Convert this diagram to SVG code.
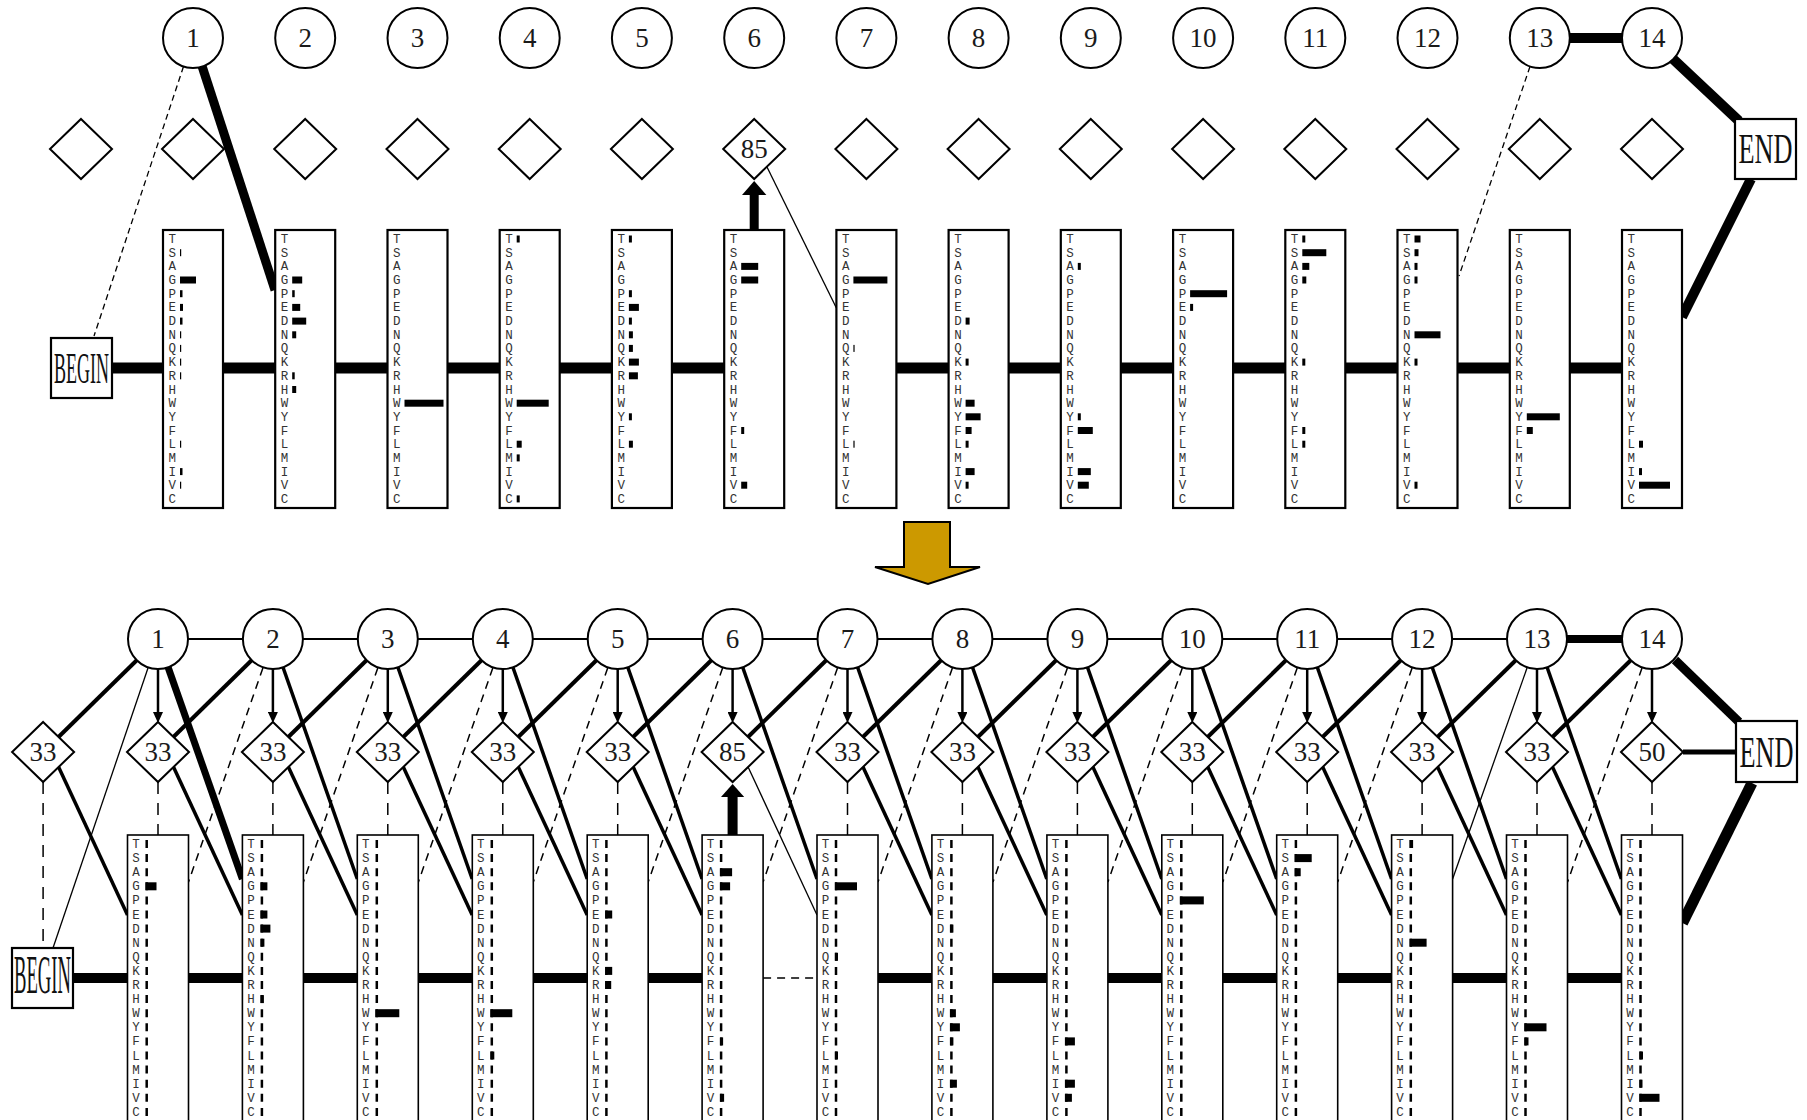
<svg xmlns="http://www.w3.org/2000/svg" width="1807" height="1120" viewBox="0 0 1807 1120">
<style>
.cir{fill:#fff;stroke:#000;stroke-width:2}
.dia{fill:#fff;stroke:#000;stroke-width:2}
.bt{fill:#fff;stroke:#000;stroke-width:2.2}
.bb{fill:#fff;stroke:#000;stroke-width:1.6}
.term{fill:#fff;stroke:#000;stroke-width:2.2}
.num{font-family:"Liberation Serif","Times New Roman",serif;font-size:27px;text-anchor:middle;fill:#1a1a1a}
.tt{font-family:"Liberation Serif","Times New Roman",serif;text-anchor:middle;fill:#111}
.lt{font-family:"Liberation Mono","Courier New",monospace;font-size:12.5px;text-anchor:middle;fill:#333}
.c{stroke:#000;fill:none}
.thin{stroke-width:1.3}
.dsh{stroke-dasharray:6 4}
.dsh2{stroke-width:1.5;stroke-dasharray:8 6}
.vd{stroke-width:1.5;stroke-dasharray:12 9}
.w35{stroke-width:3.5}
.w4{stroke-width:4}
.arr{stroke-width:2.5;marker-end:url(#ah)}
.dc{stroke:#000;fill:none;stroke-width:2.5;stroke-dasharray:8 6.1}
</style>
<defs>
<marker id="ah" markerUnits="userSpaceOnUse" markerWidth="11" markerHeight="10" viewBox="0 0 11 10" refX="5" refY="5" orient="auto"><path d="M0,0L11,5L0,10z"/></marker>
</defs>

<g id="connectors">
<!-- top -->
<path class="c" stroke-width="11" d="M112,368H754M866,368H1652"/>
<path class="c" stroke-width="10" d="M1569,38H1623"/>
<path class="c" stroke-width="10" d="M1673,59L1739,121"/>
<path class="c" stroke-width="10" d="M1751,179L1682,317"/>
<path class="c" stroke-width="9" d="M202,66L275,290"/>
<path class="c thin dsh" d="M183.5,66.5L94,336"/>
<path class="c thin dsh" d="M1530,66.5L1459,276"/>
<path class="c thin" d="M767,167L836.4,308"/>
<path class="c" stroke-width="9" d="M754.2,230V194"/>
<path d="M742,195H766.4L754.2,181z"/>
<!-- bottom -->
<path class="c" stroke-width="2" d="M158,639H1537"/>
<path class="c" stroke-width="8" d="M1537,639H1652"/>
<path class="c" stroke-width="10" d="M73,978H732M847,978H1652"/>
<path class="c dsh2" d="M763.1,978H817"/>
<path class="c" stroke-width="10" d="M732.6,835V797"/>
<path d="M721,797H744.2L732.6,784z"/>
<path class="c" stroke-width="9" d="M1675,660L1739,722"/>
<path class="c" stroke-width="5" d="M1683,752H1737"/>
<path class="c" stroke-width="11" d="M1752,783L1682.5,923"/>
<!-- circle i -> insert i-1 -->
<path class="c w4" d="M137,660L58.5,737"/>
<path class="c w4" d="M251.9,660L173.4,737"/>
<path class="c w4" d="M366.8,660L288.3,737"/>
<path class="c w4" d="M481.8,660L403.3,737"/>
<path class="c w4" d="M596.7,660L518.2,737"/>
<path class="c w4" d="M711.6,660L633.1,737"/>
<path class="c w4" d="M826.5,660L748,737"/>
<path class="c w4" d="M941.4,660L862.9,737"/>
<path class="c w4" d="M1056.4,660L977.9,737"/>
<path class="c w4" d="M1171.3,660L1092.8,737"/>
<path class="c w4" d="M1286.2,660L1207.7,737"/>
<path class="c w4" d="M1401.1,660L1322.6,737"/>
<path class="c w4" d="M1516,660L1437.5,737"/>
<path class="c w4" d="M1631,660L1552.5,737"/>
<!-- circle i -> insert i arrows -->
<path class="c arr" d="M158,669V717"/>
<path class="c arr" d="M272.9,669V717"/>
<path class="c arr" d="M387.8,669V717"/>
<path class="c arr" d="M502.8,669V717"/>
<path class="c arr" d="M617.7,669V717"/>
<path class="c arr" d="M732.6,669V717"/>
<path class="c arr" d="M847.5,669V717"/>
<path class="c arr" d="M962.4,669V717"/>
<path class="c arr" d="M1077.4,669V717"/>
<path class="c arr" d="M1192.3,669V717"/>
<path class="c arr" d="M1307.2,669V717"/>
<path class="c arr" d="M1422.1,669V717"/>
<path class="c arr" d="M1537,669V717"/>
<path class="c arr" d="M1652,669V717"/>
<!-- circle i -> match i+1 -->
<path class="c" stroke-width="7" d="M168,667L242.4,879"/>
<path class="c w35" d="M282.9,667L357.3,879"/>
<path class="c w35" d="M397.8,667L472.2,879"/>
<path class="c w35" d="M512.8,667L587.2,879"/>
<path class="c w35" d="M627.7,667L702.1,879"/>
<path class="c w35" d="M742.6,667L817,879"/>
<path class="c w35" d="M857.5,667L931.9,879"/>
<path class="c w35" d="M972.4,667L1046.8,879"/>
<path class="c w35" d="M1087.4,667L1161.8,879"/>
<path class="c w35" d="M1202.3,667L1276.7,879"/>
<path class="c w35" d="M1317.2,667L1391.6,879"/>
<path class="c w35" d="M1432.1,667L1506.5,879"/>
<path class="c w35" d="M1547,667L1621.4,879"/>
<!-- insert i -> match i+1 -->
<path class="c w35" d="M58.6,767L127.5,915"/>
<path class="c w35" d="M173.5,767L242.4,915"/>
<path class="c w35" d="M288.4,767L357.3,915"/>
<path class="c w35" d="M403.3,767L472.2,915"/>
<path class="c w35" d="M518.3,767L587.2,915"/>
<path class="c w35" d="M633.2,767L702.1,915"/>
<path class="c thin" d="M748.1,767L817,915"/>
<path class="c w35" d="M863,767L931.9,915"/>
<path class="c w35" d="M977.9,767L1046.8,915"/>
<path class="c w35" d="M1092.9,767L1161.8,915"/>
<path class="c w35" d="M1207.8,767L1276.7,915"/>
<path class="c w35" d="M1322.7,767L1391.6,915"/>
<path class="c w35" d="M1437.6,767L1506.5,915"/>
<path class="c w35" d="M1552.5,767L1621.4,915"/>
<!-- circle i -> match i-1 (dashed) -->
<path class="c thin" d="M148,668L53,948"/>
<path class="c dsh2" d="M262.9,668L188.5,882"/>
<path class="c dsh2" d="M377.8,668L303.4,882"/>
<path class="c dsh2" d="M492.8,668L418.4,882"/>
<path class="c dsh2" d="M607.7,668L533.3,882"/>
<path class="c dsh2" d="M722.6,668L648.2,882"/>
<path class="c dsh2" d="M837.5,668L763.1,882"/>
<path class="c dsh2" d="M952.4,668L878,882"/>
<path class="c dsh2" d="M1067.4,668L993,882"/>
<path class="c dsh2" d="M1182.3,668L1107.9,882"/>
<path class="c dsh2" d="M1297.2,668L1222.8,882"/>
<path class="c dsh2" d="M1412.1,668L1337.7,882"/>
<path class="c thin" d="M1527,668L1452.6,879"/>
<path class="c dsh2" d="M1642,668L1567.6,882"/>
<!-- insert i -> match i (dashed vertical) -->
<path class="c vd" d="M43.1,782V948"/>
<path class="c vd" d="M158,782V835"/>
<path class="c vd" d="M272.9,782V835"/>
<path class="c vd" d="M387.8,782V835"/>
<path class="c vd" d="M502.8,782V835"/>
<path class="c vd" d="M617.7,782V835"/>
<path class="c vd" d="M847.5,782V835"/>
<path class="c vd" d="M962.4,782V835"/>
<path class="c vd" d="M1077.4,782V835"/>
<path class="c vd" d="M1192.3,782V835"/>
<path class="c vd" d="M1307.2,782V835"/>
<path class="c vd" d="M1422.1,782V835"/>
<path class="c vd" d="M1537,782V835"/>
<path class="c vd" d="M1652,782V835"/>
</g>

<g id="transform-arrow"><polygon points="904,522 950,522 950,567 980,567 928,584 875,567 904,567" fill="#cc9900" stroke="#000" stroke-width="2"/></g>

<!-- TOP NODES -->
<g id="t-begin"><rect class="term" x="51" y="338" width="61" height="60"/><text class="tt" transform="translate(81.5,383) scale(0.409,1)" font-size="44">BEGIN</text></g>
<g id="t-end"><rect class="term" x="1735" y="119" width="61" height="60"/><text class="tt" transform="translate(1765.5,163) scale(0.626,1)" font-size="42">END</text></g>

<g id="tc1"><circle class="cir" cx="193" cy="38" r="30"/><text class="num" x="193" y="47">1</text></g>
<g id="tc2"><circle class="cir" cx="305.2" cy="38" r="30"/><text class="num" x="305.2" y="47">2</text></g>
<g id="tc3"><circle class="cir" cx="417.5" cy="38" r="30"/><text class="num" x="417.5" y="47">3</text></g>
<g id="tc4"><circle class="cir" cx="529.7" cy="38" r="30"/><text class="num" x="529.7" y="47">4</text></g>
<g id="tc5"><circle class="cir" cx="641.9" cy="38" r="30"/><text class="num" x="641.9" y="47">5</text></g>
<g id="tc6"><circle class="cir" cx="754.2" cy="38" r="30"/><text class="num" x="754.2" y="47">6</text></g>
<g id="tc7"><circle class="cir" cx="866.4" cy="38" r="30"/><text class="num" x="866.4" y="47">7</text></g>
<g id="tc8"><circle class="cir" cx="978.6" cy="38" r="30"/><text class="num" x="978.6" y="47">8</text></g>
<g id="tc9"><circle class="cir" cx="1090.8" cy="38" r="30"/><text class="num" x="1090.8" y="47">9</text></g>
<g id="tc10"><circle class="cir" cx="1203.1" cy="38" r="30"/><text class="num" x="1203.1" y="47">10</text></g>
<g id="tc11"><circle class="cir" cx="1315.3" cy="38" r="30"/><text class="num" x="1315.3" y="47">11</text></g>
<g id="tc12"><circle class="cir" cx="1427.5" cy="38" r="30"/><text class="num" x="1427.5" y="47">12</text></g>
<g id="tc13"><circle class="cir" cx="1539.8" cy="38" r="30"/><text class="num" x="1539.8" y="47">13</text></g>
<g id="tc14"><circle class="cir" cx="1652" cy="38" r="30"/><text class="num" x="1652" y="47">14</text></g>

<g id="td0"><polygon class="dia" points="81,119 112,149 81,179 50,149"/></g>
<g id="td1"><polygon class="dia" points="193,119 224,149 193,179 162,149"/></g>
<g id="td2"><polygon class="dia" points="305.2,119 336.2,149 305.2,179 274.2,149"/></g>
<g id="td3"><polygon class="dia" points="417.5,119 448.5,149 417.5,179 386.5,149"/></g>
<g id="td4"><polygon class="dia" points="529.7,119 560.7,149 529.7,179 498.7,149"/></g>
<g id="td5"><polygon class="dia" points="641.9,119 672.9,149 641.9,179 610.9,149"/></g>
<g id="td6"><polygon class="dia" points="754.2,119 785.2,149 754.2,179 723.2,149"/><text class="num" x="754.2" y="158">85</text></g>
<g id="td7"><polygon class="dia" points="866.4,119 897.4,149 866.4,179 835.4,149"/></g>
<g id="td8"><polygon class="dia" points="978.6,119 1009.6,149 978.6,179 947.6,149"/></g>
<g id="td9"><polygon class="dia" points="1090.8,119 1121.8,149 1090.8,179 1059.8,149"/></g>
<g id="td10"><polygon class="dia" points="1203.1,119 1234.1,149 1203.1,179 1172.1,149"/></g>
<g id="td11"><polygon class="dia" points="1315.3,119 1346.3,149 1315.3,179 1284.3,149"/></g>
<g id="td12"><polygon class="dia" points="1427.5,119 1458.5,149 1427.5,179 1396.5,149"/></g>
<g id="td13"><polygon class="dia" points="1539.8,119 1570.8,149 1539.8,179 1508.8,149"/></g>
<g id="td14"><polygon class="dia" points="1652,119 1683,149 1652,179 1621,149"/></g>

<g id="tm1" transform="translate(163,230)"><rect class="bt" width="60" height="278"/><text class="lt" x="9.3 9.3 9.3 9.3 9.3 9.3 9.3 9.3 9.3 9.3 9.3 9.3 9.3 9.3 9.3 9.3 9.3 9.3 9.3 9.3" y="13 26.7 40.4 54 67.7 81.4 95.1 108.8 122.4 136.1 149.8 163.5 177.2 190.8 204.5 218.2 231.9 245.6 259.2 272.9">TSAGPEDNQKRHWYFLMIVC</text>
<rect x="17" y="19.2" width="1.2" height="7"/><rect x="17" y="46.5" width="16" height="7"/><rect x="17" y="60.2" width="2.5" height="7"/><rect x="17" y="73.9" width="3" height="7"/><rect x="17" y="87.6" width="2.5" height="7"/><rect x="17" y="101.3" width="1.2" height="7"/><rect x="17" y="114.9" width="1.2" height="7"/><rect x="17" y="128.6" width="1.2" height="7"/><rect x="17" y="142.3" width="1.2" height="7"/><rect x="17" y="210.7" width="1.2" height="7"/><rect x="17" y="238.1" width="2.5" height="7"/><rect x="17" y="251.7" width="1.2" height="7"/></g>
<g id="tm2" transform="translate(275.2,230)"><rect class="bt" width="60" height="278"/><text class="lt" x="9.3 9.3 9.3 9.3 9.3 9.3 9.3 9.3 9.3 9.3 9.3 9.3 9.3 9.3 9.3 9.3 9.3 9.3 9.3 9.3" y="13 26.7 40.4 54 67.7 81.4 95.1 108.8 122.4 136.1 149.8 163.5 177.2 190.8 204.5 218.2 231.9 245.6 259.2 272.9">TSAGPEDNQKRHWYFLMIVC</text>
<rect x="17" y="46.5" width="10" height="7"/><rect x="17" y="60.2" width="2.5" height="7"/><rect x="17" y="73.9" width="8" height="7"/><rect x="17" y="87.6" width="14" height="7"/><rect x="17" y="101.3" width="4" height="7"/><rect x="17" y="142.3" width="2.5" height="7"/><rect x="17" y="156" width="4" height="7"/></g>
<g id="tm3" transform="translate(387.5,230)"><rect class="bt" width="60" height="278"/><text class="lt" x="9.3 9.3 9.3 9.3 9.3 9.3 9.3 9.3 9.3 9.3 9.3 9.3 9.3 9.3 9.3 9.3 9.3 9.3 9.3 9.3" y="13 26.7 40.4 54 67.7 81.4 95.1 108.8 122.4 136.1 149.8 163.5 177.2 190.8 204.5 218.2 231.9 245.6 259.2 272.9">TSAGPEDNQKRHWYFLMIVC</text>
<rect x="17" y="169.7" width="39" height="7"/></g>
<g id="tm4" transform="translate(499.7,230)"><rect class="bt" width="60" height="278"/><text class="lt" x="9.3 9.3 9.3 9.3 9.3 9.3 9.3 9.3 9.3 9.3 9.3 9.3 9.3 9.3 9.3 9.3 9.3 9.3 9.3 9.3" y="13 26.7 40.4 54 67.7 81.4 95.1 108.8 122.4 136.1 149.8 163.5 177.2 190.8 204.5 218.2 231.9 245.6 259.2 272.9">TSAGPEDNQKRHWYFLMIVC</text>
<rect x="17" y="5.5" width="3" height="7"/><rect x="17" y="169.7" width="32" height="7"/><rect x="17" y="210.7" width="5" height="7"/><rect x="17" y="224.4" width="3" height="7"/><rect x="17" y="265.4" width="3" height="7"/></g>
<g id="tm5" transform="translate(611.9,230)"><rect class="bt" width="60" height="278"/><text class="lt" x="9.3 9.3 9.3 9.3 9.3 9.3 9.3 9.3 9.3 9.3 9.3 9.3 9.3 9.3 9.3 9.3 9.3 9.3 9.3 9.3" y="13 26.7 40.4 54 67.7 81.4 95.1 108.8 122.4 136.1 149.8 163.5 177.2 190.8 204.5 218.2 231.9 245.6 259.2 272.9">TSAGPEDNQKRHWYFLMIVC</text>
<rect x="17" y="5.5" width="3" height="7"/><rect x="17" y="60.2" width="3" height="7"/><rect x="17" y="73.9" width="10" height="7"/><rect x="17" y="87.6" width="3" height="7"/><rect x="17" y="101.3" width="4" height="7"/><rect x="17" y="114.9" width="4" height="7"/><rect x="17" y="128.6" width="10" height="7"/><rect x="17" y="142.3" width="9" height="7"/><rect x="17" y="183.3" width="3" height="7"/><rect x="17" y="210.7" width="4" height="7"/></g>
<g id="tm6" transform="translate(724.2,230)"><rect class="bt" width="60" height="278"/><text class="lt" x="9.3 9.3 9.3 9.3 9.3 9.3 9.3 9.3 9.3 9.3 9.3 9.3 9.3 9.3 9.3 9.3 9.3 9.3 9.3 9.3" y="13 26.7 40.4 54 67.7 81.4 95.1 108.8 122.4 136.1 149.8 163.5 177.2 190.8 204.5 218.2 231.9 245.6 259.2 272.9">TSAGPEDNQKRHWYFLMIVC</text>
<rect x="17" y="32.9" width="17" height="7"/><rect x="17" y="46.5" width="17" height="7"/><rect x="17" y="197" width="3" height="7"/><rect x="17" y="251.7" width="6" height="7"/></g>
<g id="tm7" transform="translate(836.4,230)"><rect class="bt" width="60" height="278"/><text class="lt" x="9.3 9.3 9.3 9.3 9.3 9.3 9.3 9.3 9.3 9.3 9.3 9.3 9.3 9.3 9.3 9.3 9.3 9.3 9.3 9.3" y="13 26.7 40.4 54 67.7 81.4 95.1 108.8 122.4 136.1 149.8 163.5 177.2 190.8 204.5 218.2 231.9 245.6 259.2 272.9">TSAGPEDNQKRHWYFLMIVC</text>
<rect x="17" y="46.5" width="34" height="7"/><rect x="17" y="114.9" width="1.2" height="7"/><rect x="17" y="210.7" width="1.2" height="7"/></g>
<g id="tm8" transform="translate(948.6,230)"><rect class="bt" width="60" height="278"/><text class="lt" x="9.3 9.3 9.3 9.3 9.3 9.3 9.3 9.3 9.3 9.3 9.3 9.3 9.3 9.3 9.3 9.3 9.3 9.3 9.3 9.3" y="13 26.7 40.4 54 67.7 81.4 95.1 108.8 122.4 136.1 149.8 163.5 177.2 190.8 204.5 218.2 231.9 245.6 259.2 272.9">TSAGPEDNQKRHWYFLMIVC</text>
<rect x="17" y="87.6" width="4" height="7"/><rect x="17" y="128.6" width="3" height="7"/><rect x="17" y="169.7" width="9" height="7"/><rect x="17" y="183.3" width="15" height="7"/><rect x="17" y="197" width="6" height="7"/><rect x="17" y="210.7" width="3" height="7"/><rect x="17" y="238.1" width="9" height="7"/><rect x="17" y="251.7" width="3" height="7"/></g>
<g id="tm9" transform="translate(1060.8,230)"><rect class="bt" width="60" height="278"/><text class="lt" x="9.3 9.3 9.3 9.3 9.3 9.3 9.3 9.3 9.3 9.3 9.3 9.3 9.3 9.3 9.3 9.3 9.3 9.3 9.3 9.3" y="13 26.7 40.4 54 67.7 81.4 95.1 108.8 122.4 136.1 149.8 163.5 177.2 190.8 204.5 218.2 231.9 245.6 259.2 272.9">TSAGPEDNQKRHWYFLMIVC</text>
<rect x="17" y="32.9" width="3" height="7"/><rect x="17" y="183.3" width="3" height="7"/><rect x="17" y="197" width="15" height="7"/><rect x="17" y="238.1" width="13" height="7"/><rect x="17" y="251.7" width="11" height="7"/></g>
<g id="tm10" transform="translate(1173.1,230)"><rect class="bt" width="60" height="278"/><text class="lt" x="9.3 9.3 9.3 9.3 9.3 9.3 9.3 9.3 9.3 9.3 9.3 9.3 9.3 9.3 9.3 9.3 9.3 9.3 9.3 9.3" y="13 26.7 40.4 54 67.7 81.4 95.1 108.8 122.4 136.1 149.8 163.5 177.2 190.8 204.5 218.2 231.9 245.6 259.2 272.9">TSAGPEDNQKRHWYFLMIVC</text>
<rect x="17" y="60.2" width="37" height="7"/><rect x="17" y="73.9" width="3" height="7"/></g>
<g id="tm11" transform="translate(1285.3,230)"><rect class="bt" width="60" height="278"/><text class="lt" x="9.3 9.3 9.3 9.3 9.3 9.3 9.3 9.3 9.3 9.3 9.3 9.3 9.3 9.3 9.3 9.3 9.3 9.3 9.3 9.3" y="13 26.7 40.4 54 67.7 81.4 95.1 108.8 122.4 136.1 149.8 163.5 177.2 190.8 204.5 218.2 231.9 245.6 259.2 272.9">TSAGPEDNQKRHWYFLMIVC</text>
<rect x="17" y="5.5" width="3" height="7"/><rect x="17" y="19.2" width="24" height="7"/><rect x="17" y="32.9" width="7" height="7"/><rect x="17" y="46.5" width="4" height="7"/><rect x="17" y="128.6" width="3" height="7"/><rect x="17" y="197" width="3" height="7"/><rect x="17" y="210.7" width="3" height="7"/></g>
<g id="tm12" transform="translate(1397.5,230)"><rect class="bt" width="60" height="278"/><text class="lt" x="9.3 9.3 9.3 9.3 9.3 9.3 9.3 9.3 9.3 9.3 9.3 9.3 9.3 9.3 9.3 9.3 9.3 9.3 9.3 9.3" y="13 26.7 40.4 54 67.7 81.4 95.1 108.8 122.4 136.1 149.8 163.5 177.2 190.8 204.5 218.2 231.9 245.6 259.2 272.9">TSAGPEDNQKRHWYFLMIVC</text>
<rect x="17" y="5.5" width="6" height="7"/><rect x="17" y="19.2" width="4" height="7"/><rect x="17" y="32.9" width="3" height="7"/><rect x="17" y="46.5" width="3" height="7"/><rect x="17" y="101.3" width="26" height="7"/><rect x="17" y="128.6" width="3" height="7"/><rect x="17" y="251.7" width="3" height="7"/></g>
<g id="tm13" transform="translate(1509.8,230)"><rect class="bt" width="60" height="278"/><text class="lt" x="9.3 9.3 9.3 9.3 9.3 9.3 9.3 9.3 9.3 9.3 9.3 9.3 9.3 9.3 9.3 9.3 9.3 9.3 9.3 9.3" y="13 26.7 40.4 54 67.7 81.4 95.1 108.8 122.4 136.1 149.8 163.5 177.2 190.8 204.5 218.2 231.9 245.6 259.2 272.9">TSAGPEDNQKRHWYFLMIVC</text>
<rect x="17" y="183.3" width="33" height="7"/><rect x="17" y="197" width="6" height="7"/></g>
<g id="tm14" transform="translate(1622,230)"><rect class="bt" width="60" height="278"/><text class="lt" x="9.3 9.3 9.3 9.3 9.3 9.3 9.3 9.3 9.3 9.3 9.3 9.3 9.3 9.3 9.3 9.3 9.3 9.3 9.3 9.3" y="13 26.7 40.4 54 67.7 81.4 95.1 108.8 122.4 136.1 149.8 163.5 177.2 190.8 204.5 218.2 231.9 245.6 259.2 272.9">TSAGPEDNQKRHWYFLMIVC</text>
<rect x="17" y="210.7" width="4" height="7"/><rect x="17" y="238.1" width="3" height="7"/><rect x="17" y="251.7" width="31" height="7"/></g>

<!-- BOTTOM NODES -->
<g id="b-begin"><rect class="term" x="12" y="948" width="61" height="60"/><text class="tt" transform="translate(42.5,993) scale(0.345,1)" font-size="54">BEGIN</text></g>
<g id="b-end"><rect class="term" x="1736" y="721" width="61" height="61"/><text class="tt" transform="translate(1766.5,767) scale(0.584,1)" font-size="45">END</text></g>

<g id="bc1"><circle class="cir" cx="158" cy="639" r="30"/><text class="num" x="158" y="648">1</text></g>
<g id="bc2"><circle class="cir" cx="272.9" cy="639" r="30"/><text class="num" x="272.9" y="648">2</text></g>
<g id="bc3"><circle class="cir" cx="387.8" cy="639" r="30"/><text class="num" x="387.8" y="648">3</text></g>
<g id="bc4"><circle class="cir" cx="502.8" cy="639" r="30"/><text class="num" x="502.8" y="648">4</text></g>
<g id="bc5"><circle class="cir" cx="617.7" cy="639" r="30"/><text class="num" x="617.7" y="648">5</text></g>
<g id="bc6"><circle class="cir" cx="732.6" cy="639" r="30"/><text class="num" x="732.6" y="648">6</text></g>
<g id="bc7"><circle class="cir" cx="847.5" cy="639" r="30"/><text class="num" x="847.5" y="648">7</text></g>
<g id="bc8"><circle class="cir" cx="962.4" cy="639" r="30"/><text class="num" x="962.4" y="648">8</text></g>
<g id="bc9"><circle class="cir" cx="1077.4" cy="639" r="30"/><text class="num" x="1077.4" y="648">9</text></g>
<g id="bc10"><circle class="cir" cx="1192.3" cy="639" r="30"/><text class="num" x="1192.3" y="648">10</text></g>
<g id="bc11"><circle class="cir" cx="1307.2" cy="639" r="30"/><text class="num" x="1307.2" y="648">11</text></g>
<g id="bc12"><circle class="cir" cx="1422.1" cy="639" r="30"/><text class="num" x="1422.1" y="648">12</text></g>
<g id="bc13"><circle class="cir" cx="1537" cy="639" r="30"/><text class="num" x="1537" y="648">13</text></g>
<g id="bc14"><circle class="cir" cx="1652" cy="639" r="30"/><text class="num" x="1652" y="648">14</text></g>

<g id="bd0"><polygon class="dia" points="43.1,722 74.1,752 43.1,782 12.1,752"/><text class="num" x="43.1" y="761">33</text></g>
<g id="bd1"><polygon class="dia" points="158,722 189,752 158,782 127,752"/><text class="num" x="158" y="761">33</text></g>
<g id="bd2"><polygon class="dia" points="272.9,722 303.9,752 272.9,782 241.9,752"/><text class="num" x="272.9" y="761">33</text></g>
<g id="bd3"><polygon class="dia" points="387.8,722 418.8,752 387.8,782 356.8,752"/><text class="num" x="387.8" y="761">33</text></g>
<g id="bd4"><polygon class="dia" points="502.8,722 533.8,752 502.8,782 471.8,752"/><text class="num" x="502.8" y="761">33</text></g>
<g id="bd5"><polygon class="dia" points="617.7,722 648.7,752 617.7,782 586.7,752"/><text class="num" x="617.7" y="761">33</text></g>
<g id="bd6"><polygon class="dia" points="732.6,722 763.6,752 732.6,782 701.6,752"/><text class="num" x="732.6" y="761">85</text></g>
<g id="bd7"><polygon class="dia" points="847.5,722 878.5,752 847.5,782 816.5,752"/><text class="num" x="847.5" y="761">33</text></g>
<g id="bd8"><polygon class="dia" points="962.4,722 993.4,752 962.4,782 931.4,752"/><text class="num" x="962.4" y="761">33</text></g>
<g id="bd9"><polygon class="dia" points="1077.4,722 1108.4,752 1077.4,782 1046.4,752"/><text class="num" x="1077.4" y="761">33</text></g>
<g id="bd10"><polygon class="dia" points="1192.3,722 1223.3,752 1192.3,782 1161.3,752"/><text class="num" x="1192.3" y="761">33</text></g>
<g id="bd11"><polygon class="dia" points="1307.2,722 1338.2,752 1307.2,782 1276.2,752"/><text class="num" x="1307.2" y="761">33</text></g>
<g id="bd12"><polygon class="dia" points="1422.1,722 1453.1,752 1422.1,782 1391.1,752"/><text class="num" x="1422.1" y="761">33</text></g>
<g id="bd13"><polygon class="dia" points="1537,722 1568,752 1537,782 1506,752"/><text class="num" x="1537" y="761">33</text></g>
<g id="bd14"><polygon class="dia" points="1652,722 1683,752 1652,782 1621,752"/><text class="num" x="1652" y="761">50</text></g>

<g id="bm1" transform="translate(127.5,835)"><rect class="bb" width="61" height="300"/><path class="dc" stroke-width="2.2" d="M19.2,5V290"/><text class="lt" x="8.5 8.5 8.5 8.5 8.5 8.5 8.5 8.5 8.5 8.5 8.5 8.5 8.5 8.5 8.5 8.5 8.5 8.5 8.5 8.5" y="13 27.1 41.2 55.3 69.4 83.5 97.6 111.7 125.8 139.9 154 168.1 182.2 196.3 210.4 224.5 238.6 252.7 266.8 280.9">TSAGPEDNQKRHWYFLMIVC</text>
<rect x="18" y="47.3" width="11" height="8"/></g>
<g id="bm2" transform="translate(242.4,835)"><rect class="bb" width="61" height="300"/><path class="dc" stroke-width="3" d="M19.5,5V290"/><text class="lt" x="8.5 8.5 8.5 8.5 8.5 8.5 8.5 8.5 8.5 8.5 8.5 8.5 8.5 8.5 8.5 8.5 8.5 8.5 8.5 8.5" y="13 27.1 41.2 55.3 69.4 83.5 97.6 111.7 125.8 139.9 154 168.1 182.2 196.3 210.4 224.5 238.6 252.7 266.8 280.9">TSAGPEDNQKRHWYFLMIVC</text>
<rect x="18" y="47.3" width="7" height="8"/><rect x="18" y="75.5" width="7" height="8"/><rect x="18" y="89.6" width="10" height="8"/><rect x="18" y="103.7" width="4" height="8"/><rect x="18" y="160.1" width="3.5" height="8"/></g>
<g id="bm3" transform="translate(357.3,835)"><rect class="bb" width="61" height="300"/><path class="dc" stroke-width="3" d="M19.5,5V290"/><text class="lt" x="8.5 8.5 8.5 8.5 8.5 8.5 8.5 8.5 8.5 8.5 8.5 8.5 8.5 8.5 8.5 8.5 8.5 8.5 8.5 8.5" y="13 27.1 41.2 55.3 69.4 83.5 97.6 111.7 125.8 139.9 154 168.1 182.2 196.3 210.4 224.5 238.6 252.7 266.8 280.9">TSAGPEDNQKRHWYFLMIVC</text>
<rect x="18" y="174.2" width="24" height="8"/></g>
<g id="bm4" transform="translate(472.3,835)"><rect class="bb" width="61" height="300"/><path class="dc" stroke-width="3" d="M19.5,5V290"/><text class="lt" x="8.5 8.5 8.5 8.5 8.5 8.5 8.5 8.5 8.5 8.5 8.5 8.5 8.5 8.5 8.5 8.5 8.5 8.5 8.5 8.5" y="13 27.1 41.2 55.3 69.4 83.5 97.6 111.7 125.8 139.9 154 168.1 182.2 196.3 210.4 224.5 238.6 252.7 266.8 280.9">TSAGPEDNQKRHWYFLMIVC</text>
<rect x="18" y="174.2" width="22" height="8"/><rect x="18" y="216.5" width="4" height="8"/></g>
<g id="bm5" transform="translate(587.2,835)"><rect class="bb" width="61" height="300"/><path class="dc" stroke-width="2.5" d="M19.2,5V290"/><text class="lt" x="8.5 8.5 8.5 8.5 8.5 8.5 8.5 8.5 8.5 8.5 8.5 8.5 8.5 8.5 8.5 8.5 8.5 8.5 8.5 8.5" y="13 27.1 41.2 55.3 69.4 83.5 97.6 111.7 125.8 139.9 154 168.1 182.2 196.3 210.4 224.5 238.6 252.7 266.8 280.9">TSAGPEDNQKRHWYFLMIVC</text>
<rect x="18" y="75.5" width="7" height="8"/><rect x="18" y="131.9" width="7" height="8"/><rect x="18" y="146" width="6" height="8"/></g>
<g id="bm6" transform="translate(702.1,835)"><rect class="bb" width="61" height="300"/><path class="dc" stroke-width="2" d="M19,5V290"/><text class="lt" x="8.5 8.5 8.5 8.5 8.5 8.5 8.5 8.5 8.5 8.5 8.5 8.5 8.5 8.5 8.5 8.5 8.5 8.5 8.5 8.5" y="13 27.1 41.2 55.3 69.4 83.5 97.6 111.7 125.8 139.9 154 168.1 182.2 196.3 210.4 224.5 238.6 252.7 266.8 280.9">TSAGPEDNQKRHWYFLMIVC</text>
<rect x="18" y="33.2" width="12" height="8"/><rect x="18" y="47.3" width="10" height="8"/><rect x="18" y="202.4" width="3" height="8"/><rect x="18" y="258.8" width="4" height="8"/></g>
<g id="bm7" transform="translate(817,835)"><rect class="bb" width="61" height="300"/><path class="dc" stroke-width="2" d="M19,5V290"/><text class="lt" x="8.5 8.5 8.5 8.5 8.5 8.5 8.5 8.5 8.5 8.5 8.5 8.5 8.5 8.5 8.5 8.5 8.5 8.5 8.5 8.5" y="13 27.1 41.2 55.3 69.4 83.5 97.6 111.7 125.8 139.9 154 168.1 182.2 196.3 210.4 224.5 238.6 252.7 266.8 280.9">TSAGPEDNQKRHWYFLMIVC</text>
<rect x="18" y="47.3" width="22" height="8"/><rect x="18" y="117.8" width="3" height="8"/><rect x="18" y="216.5" width="3" height="8"/></g>
<g id="bm8" transform="translate(931.9,835)"><rect class="bb" width="61" height="300"/><path class="dc" stroke-width="3" d="M19.5,5V290"/><text class="lt" x="8.5 8.5 8.5 8.5 8.5 8.5 8.5 8.5 8.5 8.5 8.5 8.5 8.5 8.5 8.5 8.5 8.5 8.5 8.5 8.5" y="13 27.1 41.2 55.3 69.4 83.5 97.6 111.7 125.8 139.9 154 168.1 182.2 196.3 210.4 224.5 238.6 252.7 266.8 280.9">TSAGPEDNQKRHWYFLMIVC</text>
<rect x="18" y="89.6" width="3.5" height="8"/><rect x="18" y="174.2" width="6" height="8"/><rect x="18" y="188.3" width="10" height="8"/><rect x="18" y="202.4" width="3.5" height="8"/><rect x="18" y="244.7" width="7" height="8"/></g>
<g id="bm9" transform="translate(1046.9,835)"><rect class="bb" width="61" height="300"/><path class="dc" stroke-width="3" d="M19.5,5V290"/><text class="lt" x="8.5 8.5 8.5 8.5 8.5 8.5 8.5 8.5 8.5 8.5 8.5 8.5 8.5 8.5 8.5 8.5 8.5 8.5 8.5 8.5" y="13 27.1 41.2 55.3 69.4 83.5 97.6 111.7 125.8 139.9 154 168.1 182.2 196.3 210.4 224.5 238.6 252.7 266.8 280.9">TSAGPEDNQKRHWYFLMIVC</text>
<rect x="18" y="202.4" width="10" height="8"/><rect x="18" y="244.7" width="10" height="8"/><rect x="18" y="258.8" width="7" height="8"/></g>
<g id="bm10" transform="translate(1161.8,835)"><rect class="bb" width="61" height="300"/><path class="dc" stroke-width="3" d="M19.5,5V290"/><text class="lt" x="8.5 8.5 8.5 8.5 8.5 8.5 8.5 8.5 8.5 8.5 8.5 8.5 8.5 8.5 8.5 8.5 8.5 8.5 8.5 8.5" y="13 27.1 41.2 55.3 69.4 83.5 97.6 111.7 125.8 139.9 154 168.1 182.2 196.3 210.4 224.5 238.6 252.7 266.8 280.9">TSAGPEDNQKRHWYFLMIVC</text>
<rect x="18" y="61.4" width="24" height="8"/></g>
<g id="bm11" transform="translate(1276.7,835)"><rect class="bb" width="61" height="300"/><path class="dc" stroke-width="2.5" d="M19.2,5V290"/><text class="lt" x="8.5 8.5 8.5 8.5 8.5 8.5 8.5 8.5 8.5 8.5 8.5 8.5 8.5 8.5 8.5 8.5 8.5 8.5 8.5 8.5" y="13 27.1 41.2 55.3 69.4 83.5 97.6 111.7 125.8 139.9 154 168.1 182.2 196.3 210.4 224.5 238.6 252.7 266.8 280.9">TSAGPEDNQKRHWYFLMIVC</text>
<rect x="18" y="19.1" width="17" height="8"/><rect x="18" y="33.2" width="6" height="8"/></g>
<g id="bm12" transform="translate(1391.6,835)"><rect class="bb" width="61" height="300"/><path class="dc" stroke-width="2.5" d="M19.2,5V290"/><text class="lt" x="8.5 8.5 8.5 8.5 8.5 8.5 8.5 8.5 8.5 8.5 8.5 8.5 8.5 8.5 8.5 8.5 8.5 8.5 8.5 8.5" y="13 27.1 41.2 55.3 69.4 83.5 97.6 111.7 125.8 139.9 154 168.1 182.2 196.3 210.4 224.5 238.6 252.7 266.8 280.9">TSAGPEDNQKRHWYFLMIVC</text>
<rect x="18" y="5" width="3.5" height="8"/><rect x="18" y="103.7" width="17" height="8"/></g>
<g id="bm13" transform="translate(1506.5,835)"><rect class="bb" width="61" height="300"/><path class="dc" stroke-width="2" d="M19,5V290"/><text class="lt" x="8.5 8.5 8.5 8.5 8.5 8.5 8.5 8.5 8.5 8.5 8.5 8.5 8.5 8.5 8.5 8.5 8.5 8.5 8.5 8.5" y="13 27.1 41.2 55.3 69.4 83.5 97.6 111.7 125.8 139.9 154 168.1 182.2 196.3 210.4 224.5 238.6 252.7 266.8 280.9">TSAGPEDNQKRHWYFLMIVC</text>
<rect x="18" y="188.3" width="22" height="8"/><rect x="18" y="202.4" width="4" height="8"/></g>
<g id="bm14" transform="translate(1621.5,835)"><rect class="bb" width="61" height="300"/><path class="dc" stroke-width="2" d="M19,5V290"/><text class="lt" x="8.5 8.5 8.5 8.5 8.5 8.5 8.5 8.5 8.5 8.5 8.5 8.5 8.5 8.5 8.5 8.5 8.5 8.5 8.5 8.5" y="13 27.1 41.2 55.3 69.4 83.5 97.6 111.7 125.8 139.9 154 168.1 182.2 196.3 210.4 224.5 238.6 252.7 266.8 280.9">TSAGPEDNQKRHWYFLMIVC</text>
<rect x="18" y="216.5" width="3.5" height="8"/><rect x="18" y="244.7" width="3" height="8"/><rect x="18" y="258.8" width="20" height="8"/></g>
</svg>
